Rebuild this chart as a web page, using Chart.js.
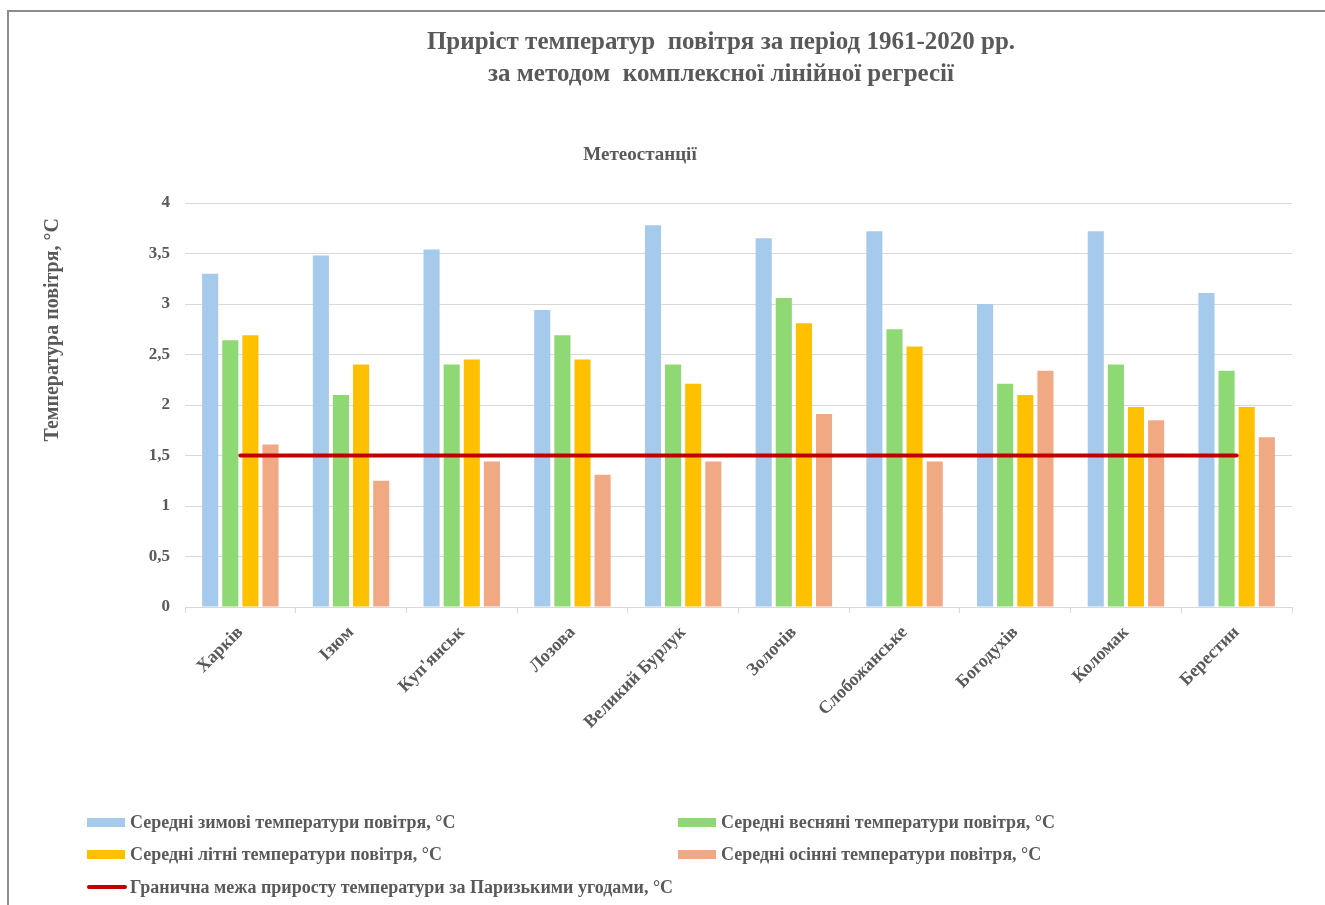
<!DOCTYPE html>
<html>
<head>
<meta charset="utf-8">
<script src="https://cdn.jsdelivr.net/npm/chart.js@4"></script>
<style>
  html, body { margin: 0; padding: 0; background: #ffffff; }
  #wrap { position: relative; width: 1325px; height: 905px; overflow: hidden; background: #fff; }
  #frame { position: absolute; left: 7px; top: 10px; width: 1400px; height: 1000px; border-left: 2px solid #8c8c8c; border-top: 2px solid #8c8c8c; box-sizing: border-box; }
  canvas { position: absolute; left: 0; top: 0; }
  .t { position: absolute; font-family: "Liberation Serif", "Times New Roman", serif; font-weight: bold; color: #595959; white-space: nowrap; }
  #title1 { left: 0; width: 1442px; text-align: center; top: 27px; font-size: 25px; }
  #title2 { left: 0; width: 1442px; text-align: center; top: 59px; font-size: 25px; }
  #sub { left: 0; width: 1280px; text-align: center; top: 143px; font-size: 19px; }
  #legend { position: absolute; left: 0; top: 0; width: 1325px; height: 905px; pointer-events: none; }
  .li { position: absolute; font-family: "Liberation Serif", "Times New Roman", serif; font-weight: bold; color: #595959; font-size: 18px; white-space: nowrap; line-height: 20px; }
  .sw { position: absolute; }
</style>
</head>
<body>
<div id="wrap">
  <div id="frame"></div>
  <canvas id="c" width="1325" height="905"></canvas>
  <div class="t" id="title1">Приріст температур&nbsp; повітря за період 1961-2020 рр.</div>
  <div class="t" id="title2">за методом&nbsp; комплексної лінійної регресії</div>
  <div class="t" id="sub">Метеостанції</div>
  <div id="legend"></div>
</div>
<script>
const stations = ['Харків', 'Ізюм', "Куп'янськ", 'Лозова', 'Великий Бурлук', 'Золочів', 'Слобожанське', 'Богодухів', 'Коломак', 'Берестин'];
const winterValues = [3.30, 3.48, 3.54, 2.94, 3.78, 3.65, 3.72, 3.00, 3.72, 3.11];
const springValues = [2.64, 2.10, 2.40, 2.69, 2.40, 3.06, 2.75, 2.21, 2.40, 2.34];
const summerValues = [2.69, 2.40, 2.45, 2.45, 2.21, 2.81, 2.58, 2.10, 1.98, 1.98];
const autumnValues = [1.61, 1.25, 1.44, 1.31, 1.44, 1.91, 1.44, 2.34, 1.85, 1.68];
const parisLimit = [1.5, 1.5, 1.5, 1.5, 1.5, 1.5, 1.5, 1.5, 1.5, 1.5];
const yTickLabels = ['0', '0,5', '1', '1,5', '2', '2,5', '3', '3,5', '4'];
const seriesNames = [
  'Середні зимові температури повітря, °С',
  'Середні весняні температури повітря, °С',
  'Середні літні температури повітря, °С',
  'Середні осінні температури повітря, °С',
  'Гранична межа приросту температури за Паризькими угодами, °С'
];
const yTitle = 'Температура повітря, °С';

const colors = ['#A6CAEC', '#8ED973', '#FFC000', '#F1A983', '#C00000'];
const FONT = '"Liberation Serif", "Times New Roman", serif';
const TXT = '#595959';

function barDs(i, data) {
  return {
    type: 'bar', label: seriesNames[i], data: data,
    backgroundColor: colors[i], borderWidth: 0,
    barPercentage: 0.8, categoryPercentage: 0.727, order: 1
  };
}

const chart = new Chart(document.getElementById('c'), {
  data: {
    labels: stations,
    datasets: [
      barDs(0, winterValues), barDs(1, springValues), barDs(2, summerValues), barDs(3, autumnValues),
      { type: 'line', label: seriesNames[4], data: parisLimit, borderColor: colors[4], backgroundColor: colors[4],
        borderWidth: 4, pointRadius: 0, borderCapStyle: 'round', tension: 0, order: 0 }
    ]
  },
  options: {
    responsive: false, animation: false, devicePixelRatio: 1,
    layout: { padding: { left: 30, right: 33, top: 203, bottom: 0 } },
    plugins: { legend: { display: false }, title: { display: false }, tooltip: { enabled: false } },
    scales: {
      x: {
        grid: { display: true, offset: true, drawOnChartArea: false, drawTicks: true, tickLength: 6, color: '#d9d9d9', lineWidth: 1 },
        border: { display: true, color: '#d9d9d9', width: 1 },
        ticks: { color: TXT, font: { family: FONT, size: 18, weight: 'bold' }, maxRotation: 45, minRotation: 45, padding: 9 },
        afterFit: (s) => { s.height = 298; }
      },
      y: {
        min: 0, max: 4,
        grid: { color: '#d9d9d9', lineWidth: 1, drawTicks: false },
        border: { display: false },
        ticks: { stepSize: 0.5, color: TXT, padding: 15, font: { family: FONT, size: 17, weight: 'bold' },
          callback: (v, i) => yTickLabels[i] },
        title: { display: true, text: yTitle + '   ', color: TXT, align: 'end', padding: { top: 11, bottom: 0 },
          font: { family: FONT, size: 20, weight: 'bold' } },
        afterFit: (s) => { s.width = 155; }
      }
    }
  }
});

// HTML legend built from the chart's datasets
const legendPos = [
  { x: 87, y: 822 }, { x: 678, y: 822 },
  { x: 87, y: 854 }, { x: 678, y: 854 },
  { x: 87, y: 887 }
];
const leg = document.getElementById('legend');
chart.data.datasets.forEach((ds, i) => {
  const p = legendPos[i];
  const sw = document.createElement('div');
  sw.className = 'sw';
  if (ds.type === 'line') {
    sw.style.cssText = `left:${p.x}px;top:${p.y - 2}px;width:40px;height:4px;border-radius:2px;background:${ds.borderColor};`;
  } else {
    sw.style.cssText = `left:${p.x}px;top:${p.y - 4}px;width:38px;height:9px;background:${ds.backgroundColor};`;
  }
  leg.appendChild(sw);
  const tx = document.createElement('div');
  tx.className = 'li';
  tx.textContent = ds.label;
  tx.style.left = (p.x + 43) + 'px';
  tx.style.top = (p.y - 10) + 'px';
  leg.appendChild(tx);
});
</script>
</body>
</html>
